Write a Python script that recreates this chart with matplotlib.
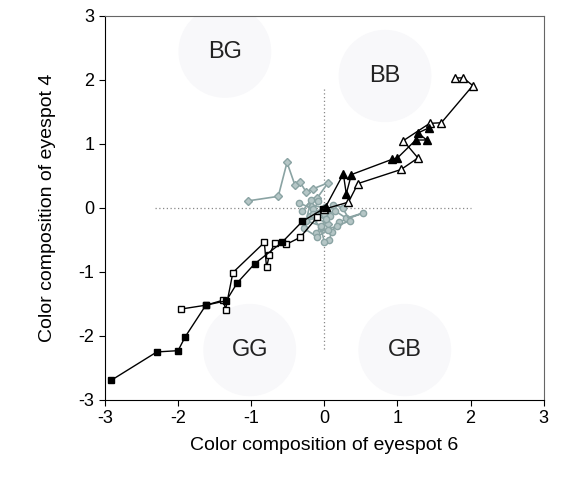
import matplotlib.pyplot as plt
from matplotlib.patches import Ellipse

plt.rcParams['font.family'] = ['Liberation Sans', 'DejaVu Sans']
plt.rcParams['axes.unicode_minus'] = False

# GG: filled squares
gg_fill_x = [-2.91, -2.29, -2.00, -1.90, -1.62, -1.34, -1.19, -0.95, -0.58, -0.30, -0.02]
gg_fill_y = [-2.69, -2.25, -2.23, -2.01, -1.52, -1.45, -1.17, -0.87, -0.54, -0.21, -0.02]
# GG: open squares
gg_open_x = [-1.96, -1.62, -1.38, -1.35, -1.25, -0.82, -0.79, -0.75, -0.68, -0.52, -0.33, -0.10]
gg_open_y = [-1.58, -1.52, -1.44, -1.59, -1.01, -0.54, -0.93, -0.73, -0.55, -0.57, -0.46, -0.15]

# BB: open triangles
bb_open_x = [0.00, 0.33, 0.46, 1.05, 1.28, 1.08, 1.44, 1.60, 2.03, 1.90, 1.78]
bb_open_y = [-0.02, 0.09, 0.38, 0.60, 0.78, 1.05, 1.32, 1.33, 1.91, 2.03, 2.03]
# BB: filled triangles
bb_fill_x = [0.02, 0.26, 0.30, 0.37, 0.93, 1.00, 1.25, 1.40, 1.28, 1.43]
bb_fill_y = [0.02, 0.53, 0.22, 0.52, 0.76, 0.78, 1.06, 1.06, 1.17, 1.25]

# center: grey diamonds
c1_x = [-1.04, -0.63, -0.51, -0.40, -0.33, -0.25, -0.15, 0.05, -0.10, -0.20, 0.00, -0.12, 0.05, -0.05]
c1_y = [0.11, 0.18, 0.71, 0.35, 0.40, 0.25, 0.30, 0.39, 0.15, 0.05, 0.00, -0.15, -0.25, -0.05]
# center: grey circles
c2_x = [-0.35, -0.15, 0.00, 0.15, 0.30, 0.53, 0.20, 0.10, 0.07, 0.00, -0.05, -0.20, -0.08]
c2_y = [0.08, -0.02, -0.10, -0.05, -0.16, -0.08, -0.22, -0.37, -0.50, -0.53, -0.30, -0.12, 0.10]
# center: grey circles, second run
c3_x = [-0.30, -0.18, -0.25, -0.05, 0.08, -0.12, 0.18, 0.35, 0.25, 0.12, 0.02, -0.15, -0.28, -0.10, 0.05]
c3_y = [-0.05, 0.12, -0.20, -0.28, -0.12, -0.40, -0.28, -0.20, 0.00, 0.05, -0.18, -0.10, -0.32, -0.45, -0.35]

quad_labels = ['BG', 'BB', 'GG', 'GB']
quad_x = [-1.36, 0.83, -1.02, 1.10]
quad_y = [2.44, 2.06, -2.22, -2.22]

fig = plt.figure(figsize=(5.67, 4.79), dpi=100)
ax = fig.add_axes([0.185, 0.165, 0.774, 0.802])

for lab, qx, qy in zip(quad_labels, quad_x, quad_y):
    ax.add_patch(Ellipse((qx, qy), 1.25, 1.42, color='#f8f8fa', zorder=0))
    ax.text(qx, qy, lab, ha='center', va='center', fontsize=17, color='#222222', zorder=1)

ax.plot([-2.32, 2.0], [0, 0], ls=(0, (1, 2)), color='#888888', lw=0.9, zorder=1)
ax.plot([0, 0], [-2.2, 1.85], ls=(0, (1, 2)), color='#888888', lw=0.9, zorder=1)

grey = '#8aa3a3'
ax.plot(c1_x, c1_y, '-D', color=grey, mfc='#b5c6c6', mec=grey, ms=4, lw=1.2, zorder=2)
ax.plot(c2_x, c2_y, '-o', color=grey, mfc='#b5c6c6', mec=grey, ms=4.5, lw=1.2, zorder=2)
ax.plot(c3_x, c3_y, '-o', color=grey, mfc='#b5c6c6', mec=grey, ms=4.5, lw=1.2, zorder=2)

ax.plot(gg_open_x, gg_open_y, '-s', color='black', mfc='white', ms=5, lw=1, zorder=3)
ax.plot(gg_fill_x, gg_fill_y, '-s', color='black', mfc='black', ms=5, lw=1, zorder=3)
ax.plot(bb_open_x, bb_open_y, '-^', color='black', mfc='white', ms=5.5, lw=1, zorder=3)
ax.plot(bb_fill_x, bb_fill_y, '-^', color='black', mfc='black', ms=5.5, lw=1, zorder=3)

ax.set_xlim(-3, 3)
ax.set_ylim(-3, 3)
ax.set_xticks(range(-3, 4))
ax.set_yticks(range(-3, 4))
ax.tick_params(direction='out', length=4, labelsize=13)
ax.spines['top'].set_color('#666666')
ax.spines['right'].set_color('#666666')
ax.set_xlabel('Color composition of eyespot 6', fontsize=14, labelpad=7)
ax.set_ylabel('Color composition of eyespot 4', fontsize=14, labelpad=16)

plt.savefig('out.png', dpi=100)
